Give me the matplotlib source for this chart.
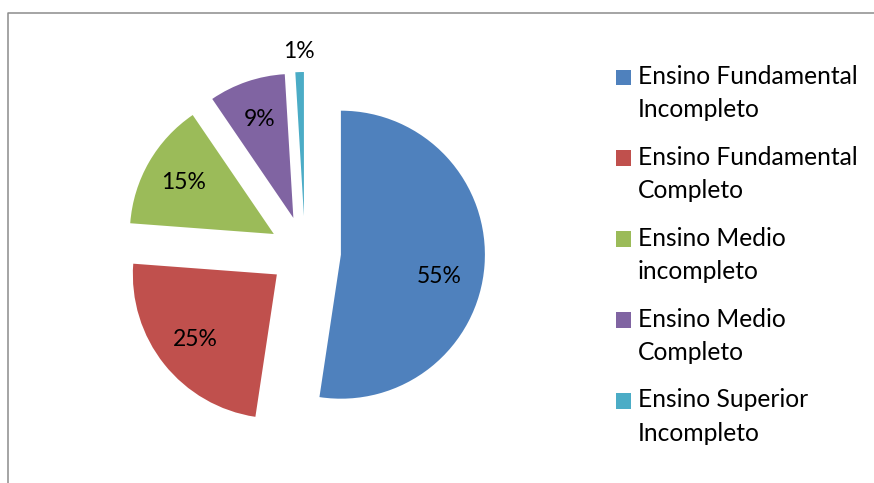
import matplotlib
matplotlib.use("Agg")
import matplotlib.pyplot as plt
import numpy as np
from matplotlib.lines import Line2D
from matplotlib.patches import Rectangle, Wedge
from matplotlib.legend_handler import HandlerPatch

categories = [
    "Ensino Fundamental\nIncompleto",
    "Ensino Fundamental\nCompleto",
    "Ensino Medio\nincompleto",
    "Ensino Medio\nCompleto",
    "Ensino Superior\nIncompleto",
]
values = [55, 25, 15, 9, 1]
colors = ["#4F81BD", "#C0504D", "#9BBB59", "#8064A2", "#4BACC6"]

W, H = 874, 483
FS = 16.5      # slice labels
LFS = 17.7     # legend text
plt.rcParams["font.family"] = ["Lato", "DejaVu Sans"]


class FirstLineHandler(HandlerPatch):
    """Legend square aligned with the first line of a two-line label."""

    def __init__(self, shift, **kw):
        super().__init__(**kw)
        self.shift = shift

    def create_artists(self, legend, orig_handle, xdescent, ydescent,
                       width, height, fontsize, trans):
        p = Rectangle((-xdescent, -ydescent + self.shift), width, height,
                      facecolor=orig_handle.get_facecolor(), linewidth=0)
        p.set_transform(trans)
        return [p]


fig = plt.figure(figsize=(W / 100, H / 100), dpi=100)

# pie axes: radius 144 px, centre (305, 252) from the top-left corner
r_px = 144
cx, cy = 305, H - 252
span = 1.5 * r_px
ax = fig.add_axes([(cx - span) / W, (cy - span) / H, 2 * span / W, 2 * span / H])

labels = [f"{v}%" for v in values]
wedges, texts = ax.pie(
    values, explode=[0.25] * len(values), labels=labels, labeldistance=0.72,
    colors=colors, startangle=90, counterclock=False,
    wedgeprops=dict(linewidth=0), textprops=dict(fontsize=FS, color="black"),
)
for t in texts:
    t.set_ha("center")


def place(i, dist, dang=0.0):
    w = wedges[i]
    th = np.deg2rad((w.theta1 + w.theta2) / 2 + dang)
    texts[i].set_position((w.center[0] + dist * np.cos(th), w.center[1] + dist * np.sin(th)))


place(0, 0.70, -8)   # big slice label sits a bit lower, like Excel
place(-1, 1.14)      # smallest slice label sits outside
ax.set_xlim(-1.5, 1.5)
ax.set_ylim(-1.5, 1.5)

leg = fig.legend(
    wedges, categories, loc="upper left", bbox_to_anchor=(616 / W, 1 - 65 / H),
    frameon=False, fontsize=LFS, handlelength=0.61, handleheight=0.61,
    handletextpad=0.28, labelspacing=1.0, borderpad=0, borderaxespad=0,
    handler_map={Wedge: FirstLineHandler(shift=11.9)},
)
for t in leg.get_texts():
    t.set_linespacing(1.54)

# chart-area border (cropped on the right and bottom)
fig.add_artist(Line2D([8 / W, 8 / W, 1.0], [0.0, 1 - 13 / H, 1 - 13 / H],
                      transform=fig.transFigure, color="#8c8c8c", linewidth=1.1))

fig.savefig("out.png", dpi=100)
